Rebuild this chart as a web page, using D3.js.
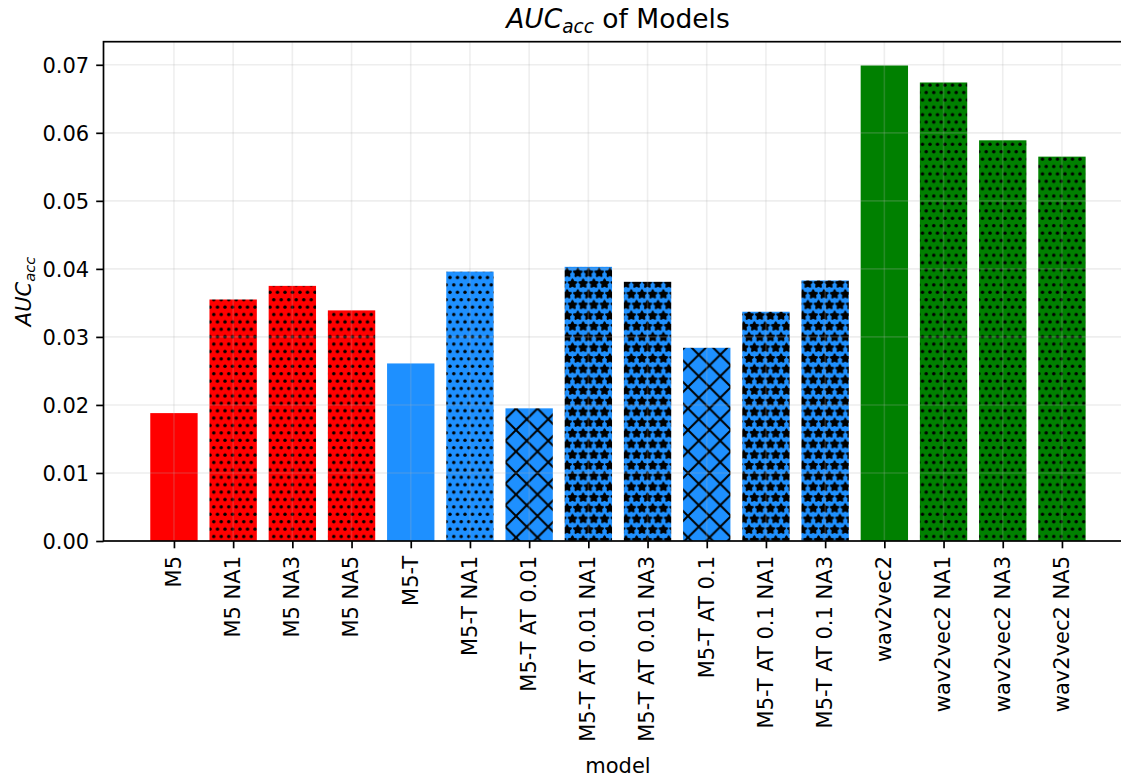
<!DOCTYPE html>
<html>
<head>
<meta charset="utf-8">
<script src="https://cdn.jsdelivr.net/npm/d3@7"></script>
<style>
  html, body { margin: 0; padding: 0; background: #ffffff; }
  svg { display: block; font-family: "DejaVu Sans", sans-serif; }
</style>
</head>
<body>
<svg id="chart" width="1121" height="780"></svg>
<script>
// Model names, in plotting order
const models = [
  "M5", "M5 NA1", "M5 NA3", "M5 NA5",
  "M5-T", "M5-T NA1", "M5-T AT 0.01", "M5-T AT 0.01 NA1", "M5-T AT 0.01 NA3",
  "M5-T AT 0.1", "M5-T AT 0.1 NA1", "M5-T AT 0.1 NA3",
  "wav2vec2", "wav2vec2 NA1", "wav2vec2 NA3", "wav2vec2 NA5"
];

// AUC_acc per model
const aucValues = [
  0.0188, 0.0355, 0.0375, 0.0339,
  0.0261, 0.0396, 0.0195, 0.0403, 0.0381,
  0.0284, 0.0337, 0.0383,
  0.0699, 0.0674, 0.0589, 0.0565
];

// Model family of each bar
const families = [
  "M5", "M5", "M5", "M5",
  "M5-T", "M5-T", "M5-T", "M5-T", "M5-T",
  "M5-T", "M5-T", "M5-T",
  "wav2vec2", "wav2vec2", "wav2vec2", "wav2vec2"
];

const yTicks = [0, 0.01, 0.02, 0.03, 0.04, 0.05, 0.06, 0.07];

(function () {
// ---- styling ----
const familyColor = { "M5": "#ff0000", "M5-T": "#1e90ff", "wav2vec2": "#008000" };

// hatch: NA -> dots, AT -> crosshatch, AT + NA -> stars
function hatchOf(name) {
  const na = /NA\d/.test(name), at = /AT /.test(name);
  if (at && na) return "stars";
  if (at) return "cross";
  if (na) return "dots";
  return null;
}

const fontSize = 21;
const titleSize = 26.5;

const svg = d3.select("#chart");

// Axes box (right edge lies past the canvas edge)
const axLeft = 103.5, axTop = 41.7, axBottom = 541;
const step = 59.2;
const xmin = -1.19, xmax = models.length - 1 + 1.19;
const axRight = axLeft + (xmax - xmin) * step;

const x = d3.scaleLinear().domain([xmin, xmax]).range([axLeft, axRight]);
const y = d3.scaleLinear().domain([0, d3.max(aucValues) * 1.05]).range([axBottom, axTop]);
const barWidth = 0.8;

// ---- hatch patterns ----
const defs = svg.append("defs");

function makePatterns(color) {
  const key = color.replace("#", "");
  // dots
  {
    const s = 7.5, h = 14.8;
    const p = defs.append("pattern").attr("id", "dots-" + key)
      .attr("patternUnits", "userSpaceOnUse").attr("width", s).attr("height", h);
    p.append("rect").attr("width", s).attr("height", h).attr("fill", color);
    const pts = [[s / 2, h / 4], [0, 3 * h / 4], [s, 3 * h / 4]];
    pts.forEach(([cx, cy]) => p.append("circle").attr("cx", cx).attr("cy", cy).attr("r", 1.75).attr("fill", "#000"));
  }
  // crosshatch
  {
    const s = 21.5;
    const p = defs.append("pattern").attr("id", "cross-" + key)
      .attr("patternUnits", "userSpaceOnUse").attr("width", s).attr("height", s);
    p.append("rect").attr("width", s).attr("height", s).attr("fill", color);
    p.append("path").attr("d", `M-2,-2L${s + 2},${s + 2}M-2,${s + 2}L${s + 2},-2`)
      .attr("stroke", "#000").attr("stroke-width", 2).attr("fill", "none");
  }
  // stars
  {
    const s = 10.7, h = 21.4, r = 4.0;
    const starPath = (cx, cy) => {
      const pts = [];
      for (let i = 0; i < 10; i++) {
        const rr = i % 2 === 0 ? r : r * 0.5;
        const a = -Math.PI / 2 + i * Math.PI / 5;
        pts.push([cx + rr * Math.cos(a), cy + rr * Math.sin(a)]);
      }
      return "M" + pts.map(p => p.join(",")).join("L") + "Z";
    };
    const p = defs.append("pattern").attr("id", "stars-" + key)
      .attr("patternUnits", "userSpaceOnUse").attr("width", s).attr("height", h);
    p.append("rect").attr("width", s).attr("height", h).attr("fill", color);
    const pts = [[s / 2, h / 4], [0, 3 * h / 4], [s, 3 * h / 4],
                 [s / 2, h / 4 + h], [s / 2, h / 4 - h]];
    pts.forEach(([cx, cy]) => p.append("path").attr("d", starPath(cx, cy))
      .attr("fill", "#000").attr("stroke", "#000").attr("stroke-width", 2)
      .attr("stroke-linejoin", "round"));
  }
}
Object.values(familyColor).forEach(makePatterns);

function fillOf(i) {
  const c = familyColor[families[i]];
  const h = hatchOf(models[i]);
  return h ? `url(#${h}-${c.replace("#", "")})` : c;
}

// ---- bars ----
svg.append("g").selectAll("rect")
  .data(models)
  .join("rect")
  .attr("x", (d, i) => x(i - barWidth / 2))
  .attr("width", (d, i) => x(i + barWidth / 2) - x(i - barWidth / 2))
  .attr("y", (d, i) => y(aucValues[i]))
  .attr("height", (d, i) => y(0) - y(aucValues[i]))
  .attr("fill", (d, i) => fillOf(i));

// ---- grid (drawn over bars) ----
const grid = svg.append("g").attr("stroke", "#b0b0b0").attr("stroke-opacity", 0.22).attr("stroke-width", 1.6);
grid.selectAll("line.v").data(models).join("line").attr("class", "v")
  .attr("x1", (d, i) => x(i)).attr("x2", (d, i) => x(i))
  .attr("y1", axTop).attr("y2", axBottom);
grid.selectAll("line.h").data(yTicks).join("line").attr("class", "h")
  .attr("x1", axLeft).attr("x2", axRight)
  .attr("y1", d => y(d)).attr("y2", d => y(d));

// ---- axes ----
const yAxis = d3.axisLeft(y).tickValues(yTicks).tickFormat(d3.format(".2f"))
  .tickSize(7.3).tickPadding(7);
const gy = svg.append("g").attr("transform", `translate(${axLeft},0)`).call(yAxis);
gy.select(".domain").remove();
gy.selectAll(".tick line").attr("stroke", "#000").attr("stroke-width", 1.7);
gy.selectAll(".tick text").attr("font-size", fontSize).attr("fill", "#000")
  .attr("font-family", "DejaVu Sans").attr("dy", "0.36em");

const xAxis = d3.axisBottom(x).tickValues(d3.range(models.length))
  .tickFormat(i => models[i]).tickSize(7.3).tickPadding(0);
const gx = svg.append("g").attr("transform", `translate(0,${axBottom})`).call(xAxis);
gx.select(".domain").remove();
gx.selectAll(".tick line").attr("stroke", "#000").attr("stroke-width", 1.7);
gx.selectAll(".tick text")
  .attr("font-size", fontSize).attr("fill", "#000").attr("font-family", "DejaVu Sans")
  .attr("text-anchor", "end")
  .attr("transform", "translate(0,15) rotate(-90)")
  .attr("x", 0).attr("y", 0).attr("dy", "0.3em");

// frame
svg.append("rect")
  .attr("x", axLeft).attr("y", axTop)
  .attr("width", axRight - axLeft).attr("height", axBottom - axTop)
  .attr("fill", "none").attr("stroke", "#000").attr("stroke-width", 1.7);

// ---- labels ----
const cx = (axLeft + axRight) / 2;

const title = svg.append("text")
  .attr("x", cx).attr("y", 28).attr("text-anchor", "middle")
  .attr("font-size", titleSize).attr("fill", "#000");
title.append("tspan").attr("font-style", "italic").text("AUC");
title.append("tspan").attr("font-style", "italic").attr("font-size", titleSize * 0.7).attr("dy", 4.5).text("acc");
title.append("tspan").attr("dy", -4.5).text(" of Models");

svg.append("text")
  .attr("x", cx).attr("y", 773).attr("text-anchor", "middle")
  .attr("font-size", fontSize).attr("fill", "#000").text("model");

const ylab = svg.append("text")
  .attr("transform", `translate(31,${(axTop + axBottom) / 2}) rotate(-90)`)
  .attr("text-anchor", "middle").attr("font-size", fontSize).attr("fill", "#000");
ylab.append("tspan").attr("font-style", "italic").text("AUC");
ylab.append("tspan").attr("font-style", "italic").attr("font-size", fontSize * 0.7).attr("dy", 3.8).text("acc");
})();
</script>
</body>
</html>
